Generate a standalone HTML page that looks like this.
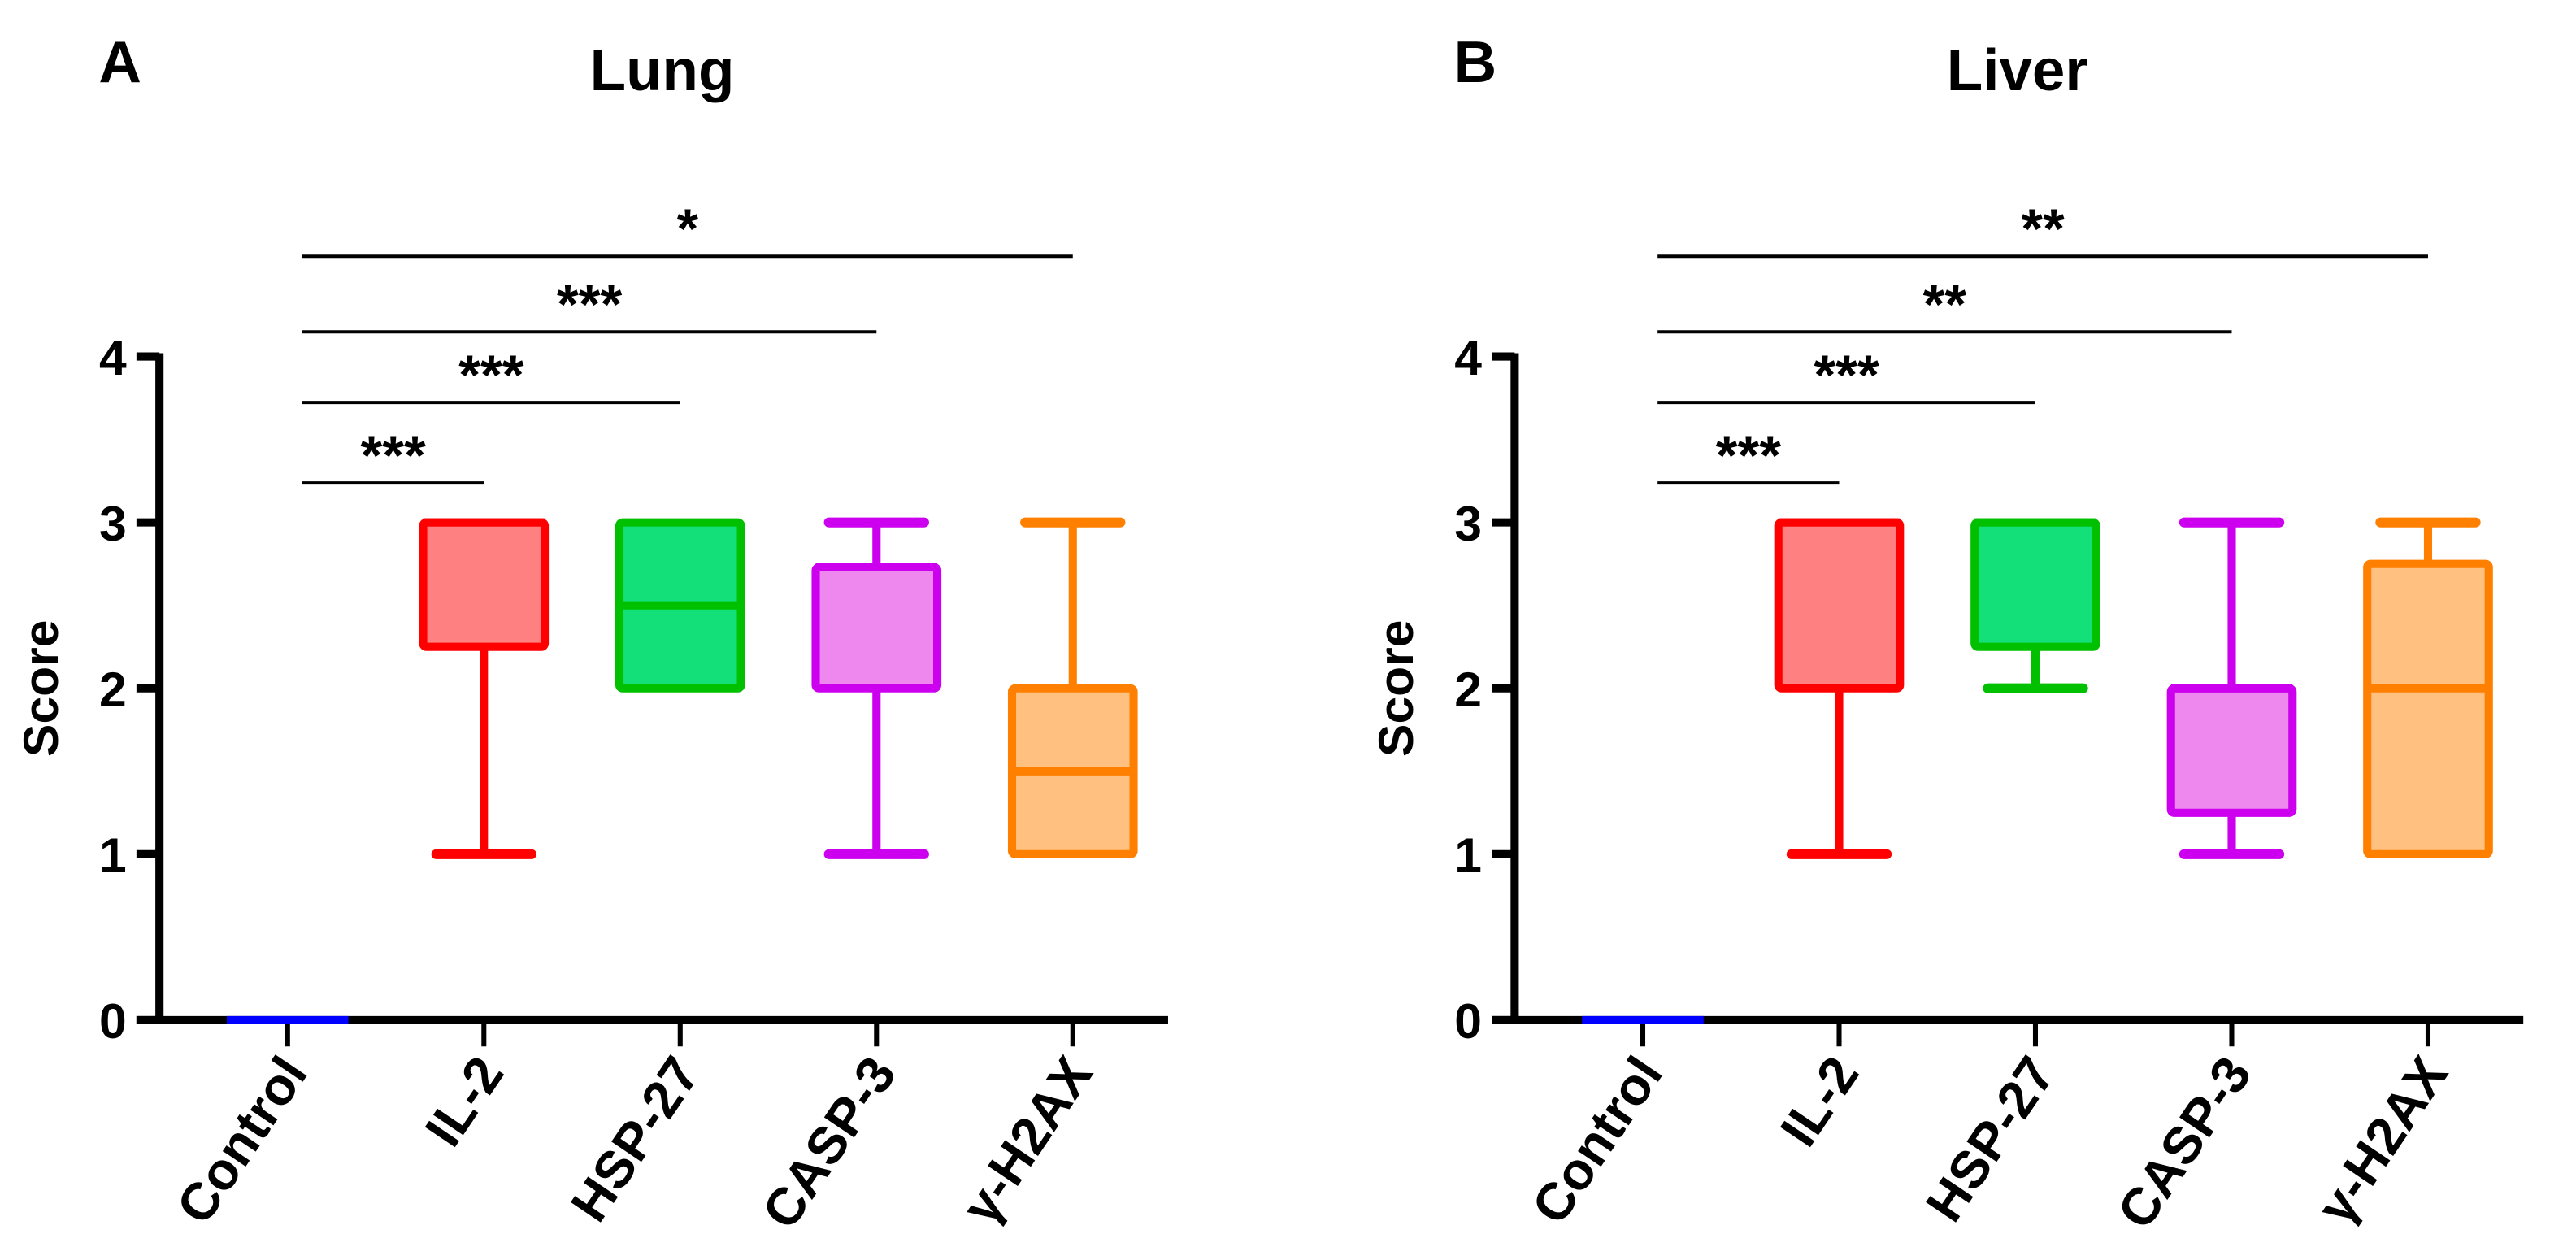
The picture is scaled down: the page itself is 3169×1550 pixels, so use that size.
<!DOCTYPE html>
<html><head><meta charset="utf-8"><style>
html,body{margin:0;padding:0;background:#fff;}
svg{display:block;}
text{font-family:"Liberation Sans",Arial,sans-serif;font-weight:bold;fill:#000;}
</style></head><body>
<svg id="fig" width="3169" height="1550" viewBox="0 0 1568 767" xmlns="http://www.w3.org/2000/svg"></svg>
<script>
const categories = ["Control","IL-2","HSP-27","CASP-3","γ-H2AX"];
const lungMin = [0,1,2,1,1];
const lungQ1 = [0,2.25,2,2,1];
const lungMed = [0,3,2.5,2.73,1.5];
const lungQ3 = [0,3,3,2.73,2];
const lungMax = [0,3,3,3,3];
const liverMin = [0,1,2,1,1];
const liverQ1 = [0,2,2.25,1.25,1];
const liverMed = [0,3,3,2,2];
const liverQ3 = [0,3,3,2,2.75];
const liverMax = [0,3,3,3,3];
const yTicks = [0,1,2,3,4];
const lungSig = ["***","***","***","*"];
const liverSig = ["***","***","**","**"];
const strokeColors = ["#0000ff","#ff0000","#00c000","#cc00ee","#ff8000"];
const fillColors = ["#8080ff","#ff8080","#14e07a","#ee88ee","#ffc080"];

const NS = "http://www.w3.org/2000/svg";
const svg = document.getElementById('fig');
function mk(tag, attrs, parent){
  const e = document.createElementNS(NS, tag);
  for (const k in attrs) e.setAttribute(k, attrs[k]);
  (parent||svg).appendChild(e);
  return e;
}
function panel(id, x0, letter, title, mins, q1s, meds, q3s, maxs, sig){
  const g = mk('g', {});
  
  
  const y0 = 621, y4 = 217;
  const y = v => y0 - (y0 - y4) * v / 4;
  const xs = i => x0 + 78 + i * 119.5;
  const t1 = mk('text', {x: x0 - 37, y: 50, 'font-size': 36}, g); t1.textContent = letter;
  
  
  const t2 = mk('text', {x: x0 + 306, y: 55, 'font-size': 36, 'text-anchor': 'middle'}, g); t2.textContent = title;
  
  
  const yl = mk('text', {x: 0, y: 0, 'font-size': 30, 'text-anchor': 'middle', transform: `translate(${x0-62},${y(2)}) rotate(-90)`}, g);
  yl.textContent = 'Score';
  
  
  const ya = mk('line', {x1: x0, y1: y(4) - 2, x2: x0, y2: y0 + 2, stroke: '#000', 'stroke-width': 5}, g);
  
  
  const xa = mk('line', {x1: x0 - 14, y1: y0, x2: x0 + 614, y2: y0, stroke: '#000', 'stroke-width': 5}, g);
  
  
  yTicks.forEach(v => {
    const tk = mk('line', {x1: x0 - 14, y1: y(v), x2: x0, y2: y(v), stroke: '#000', 'stroke-width': 5}, g);
    
    
    const tl = mk('text', {x: x0 - 20, y: y(v) + 11, 'font-size': 30, 'text-anchor': 'end'}, g);
    tl.textContent = String(v);
    
    
  });
  categories.forEach((c, i) => {
    const x = xs(i);
    const tk = mk('line', {x1: x, y1: y0, x2: x, y2: y0 + 16, stroke: '#000', 'stroke-width': 3}, g);
    
    
    const tl = mk('text', {x: 0, y: 0, 'font-size': 32, 'text-anchor': 'end', transform: `translate(${x + 13},${y0 + 32}) rotate(-56)`}, g);
    tl.textContent = c;
    
    
    const bg = mk('g', {}, g);
    
    
    const sc = strokeColors[i], fc = fillColors[i], hw = 37, cw = 29;
    if (maxs[i] === 0) {
      mk('line', {x1: x - hw, y1: y(0), x2: x + hw, y2: y(0), stroke: sc, 'stroke-width': 5}, bg);
      return;
    }
    mk('line', {x1: x, y1: y(maxs[i]), x2: x, y2: y(q3s[i]), stroke: sc, 'stroke-width': 5}, bg);
    mk('line', {x1: x, y1: y(q1s[i]), x2: x, y2: y(mins[i]), stroke: sc, 'stroke-width': 5}, bg);
    if (maxs[i] > q3s[i]) mk('line', {x1: x - cw, y1: y(maxs[i]), x2: x + cw, y2: y(maxs[i]), stroke: sc, 'stroke-width': 6, 'stroke-linecap': 'round'}, bg);
    if (mins[i] < q1s[i]) mk('line', {x1: x - cw, y1: y(mins[i]), x2: x + cw, y2: y(mins[i]), stroke: sc, 'stroke-width': 6, 'stroke-linecap': 'round'}, bg);
    mk('rect', {x: x - hw, y: y(q3s[i]), width: hw * 2, height: y(q1s[i]) - y(q3s[i]), fill: fc, stroke: sc, 'stroke-width': 5, rx: 2}, bg);
    mk('line', {x1: x - hw, y1: y(meds[i]), x2: x + hw, y2: y(meds[i]), stroke: sc, 'stroke-width': 5}, bg);
  });
  const lineYs = [294, 245, 202, 156];
  sig.forEach((s, k) => {
    const xe = xs(k + 1);
    const xst = xs(0) + 9;
    const l = mk('line', {x1: xst, y1: lineYs[k], x2: xe, y2: lineYs[k], stroke: '#000', 'stroke-width': 2}, g);
    
    
    const t = mk('text', {x: (xst + xe) / 2, y: lineYs[k] - 5, 'font-size': 34, 'text-anchor': 'middle', 'font-weight': 'normal'}, g);
    t.textContent = s;
    
    
  });
}
panel('lung', 97, 'A', 'Lung', lungMin, lungQ1, lungMed, lungQ3, lungMax, lungSig);
panel('liver', 922, 'B', 'Liver', liverMin, liverQ1, liverMed, liverQ3, liverMax, liverSig);
</script>
</body></html>
